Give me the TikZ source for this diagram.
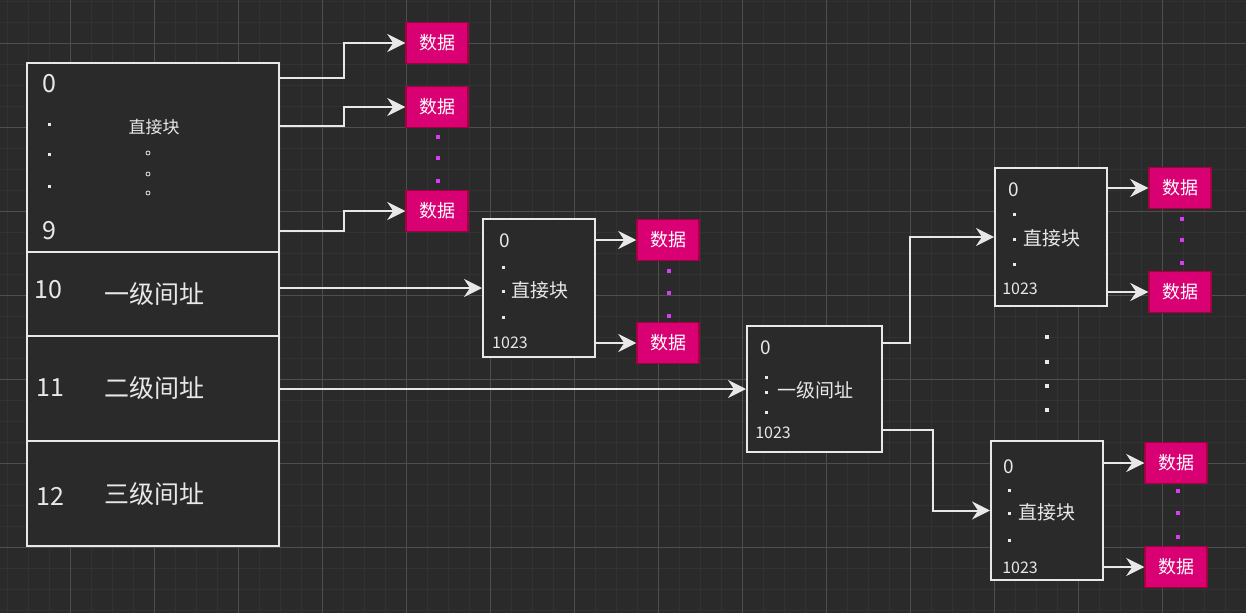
\documentclass[tikz,border=0pt]{standalone}
\usepackage{fontspec}
\setmainfont{Noto Sans CJK SC}
\usetikzlibrary{arrows.meta}
\definecolor{bgcol}{HTML}{2A2A2A}
\definecolor{gridmin}{HTML}{323232}
\definecolor{gridmaj}{HTML}{4E4E4E}
\definecolor{linecol}{HTML}{E8E8E8}
\definecolor{datafill}{HTML}{D80073}
\definecolor{dataline}{HTML}{A50040}
\definecolor{dotcol}{HTML}{D83CF8}
\newcommand{\fsz}[1]{\fontsize{#1}{#1}\selectfont}
\begin{document}
\begin{tikzpicture}[x=1pt, y=-1pt,
    every node/.style = {text=linecol, inner sep=0pt},
    blk/.style = {draw=linecol, fill=bgcol, line width=2pt},
    data/.style = {draw=dataline, fill=datafill, line width=1.5pt, minimum width=62pt,
                   minimum height=41pt, text=white, font=\fsz{18}},
    big/.style = {font=\fsz{25}},
    num/.style = {font=\fsz{19}},
    small/.style = {font=\fsz{17}},
    link/.style = {draw=linecol, line width=2pt, -{Stealth[length=18pt, width=18pt, inset=6pt]}}]
  % background and grid
  \useasboundingbox (0,0) rectangle (1246,613);
  \fill[bgcol] (0,0) rectangle (1246,613);
  \foreach \k in {0,...,58} \draw[gridmin, line width=1.3pt] (7.7+21*\k,0) -- (7.7+21*\k,613);
  \foreach \k in {0,...,29} \draw[gridmin, line width=1.3pt] (0,1.3+21*\k) -- (1246,1.3+21*\k);
  \foreach \k in {0,...,13} \draw[gridmaj, line width=1pt] (70.7+84*\k,0) -- (70.7+84*\k,613);
  \foreach \k in {0,...,6} \draw[gridmaj, line width=1pt] (0,43.3+84*\k) -- (1246,43.3+84*\k);

  % inode table
  \node[blk, minimum width=252pt, minimum height=189pt] (dir) at (153,157.5) {};
  \node[blk, minimum width=252pt, minimum height=84pt] (ind1) at (153,294) {};
  \node[blk, minimum width=252pt, minimum height=105pt] (ind2) at (153,388.5) {};
  \node[blk, minimum width=252pt, minimum height=105pt] (ind3) at (153,493.5) {};
  \node[big] (n0) at (49,84) {0};
  \node[big] (n9) at (49,231) {9};
  \foreach \y in {124,154,186} \fill[linecol] (47.5,\y-1.5) rectangle ++(3,3);
  \node[small] (dirlbl) at (154,127) {直接块};
  \foreach \y in {153,174,193} \draw[linecol, line width=0.8pt] (148,\y) circle (2);
  \node[big] (n10) at (48,290) {10};
  \node[big] (lbl1) at (154,294) {一级间址};
  \node[big] (n11) at (50,388) {11};
  \node[big] (lbl2) at (154,388) {二级间址};
  \node[big] (n12) at (50,496) {12};
  \node[big] (lbl3) at (154,494) {三级间址};

  % direct data blocks
  \node[data] (d1) at (437,43) {数据};
  \node[data] (d2) at (437,107) {数据};
  \node[data] (d3) at (437,211) {数据};
  \foreach \y in {137,158,181} \fill[dotcol] (436,\y-2) rectangle ++(4,4);
  \draw[link] (dir.east |- 0,78) -- ++(64,0) |- (d1);
  \draw[link] (dir.east |- 0,126) -- ++(64,0) |- (d2);
  \draw[link] (dir.east |- 0,231) -- ++(64,0) |- (d3);

  % single indirect
  \node[blk, minimum width=112pt, minimum height=138pt] (blk2) at (539,288) {};
  \node[num] (b2n0) at (505,241) {0};
  \foreach \y in {267,291,317} \fill[linecol] (501.5,\y-1.5) rectangle ++(3,3);
  \node[num] (b2lbl) at (540,290) {直接块};
  \node[font=\fsz{16}] (b2end) at (510,343) {1023};
  \node[data] (e1) at (668,240) {数据};
  \node[data] (e2) at (668,343) {数据};
  \foreach \y in {271,293,316} \fill[dotcol] (667,\y-2) rectangle ++(4,4);
  \draw[link] (ind1.east |- blk2.west) -- (blk2.west);
  \draw[link] (blk2.east |- e1) -- (e1);
  \draw[link] (blk2.east |- e2) -- (e2);

  % double indirect
  \node[blk, minimum width=135pt, minimum height=126pt] (blk3) at (814.5,389) {};
  \node[num] (b3n0) at (766,348) {0};
  \foreach \y in {377,392,412} \fill[linecol] (764.5,\y-1.5) rectangle ++(3,3);
  \node[num] (b3lbl) at (815,390) {一级间址};
  \node[font=\fsz{16}] (b3end) at (773,433) {1023};
  \draw[link] (ind2.east |- blk3.west) -- (blk3.west);

  \node[blk, minimum width=112pt, minimum height=138pt] (blk4) at (1051,237) {};
  \node[num] (b4n0) at (1014,190) {0};
  \foreach \y in {214,239,264} \fill[linecol] (1012.5,\y-1.5) rectangle ++(3,3);
  \node[num] (b4lbl) at (1052,238) {直接块};
  \node[font=\fsz{16}] (b4end) at (1020,289) {1023};
  \node[data] (f1) at (1180,188) {数据};
  \node[data] (f2) at (1180,292) {数据};
  \foreach \y in {219,240,263} \fill[dotcol] (1180,\y-2) rectangle ++(4,4);

  \foreach \y in {337,362,386,410} \fill[linecol] (1044.5,\y-2) rectangle ++(4,4);

  \node[blk, minimum width=112pt, minimum height=139pt] (blk5) at (1047,510.5) {};
  \node[num] (b5n0) at (1009,467) {0};
  \foreach \y in {490,513,540} \fill[linecol] (1007.5,\y-1.5) rectangle ++(3,3);
  \node[num] (b5lbl) at (1047,512) {直接块};
  \node[font=\fsz{16}] (b5end) at (1020,568) {1023};
  \node[data] (g1) at (1176,463) {数据};
  \node[data] (g2) at (1176,567) {数据};
  \foreach \y in {491,513,537} \fill[dotcol] (1176,\y-2) rectangle ++(4,4);

  \draw[link] (blk3.east |- 0,343) -- ++(27,0) |- (blk4.west);
  \draw[link] (blk3.east |- 0,430) -- ++(50,0) |- (blk5.west);
  \draw[link] (blk4.east |- f1) -- (f1);
  \draw[link] (blk4.east |- f2) -- (f2);
  \draw[link] (blk5.east |- g1) -- (g1);
  \draw[link] (blk5.east |- g2) -- (g2);
\end{tikzpicture}
\end{document}
